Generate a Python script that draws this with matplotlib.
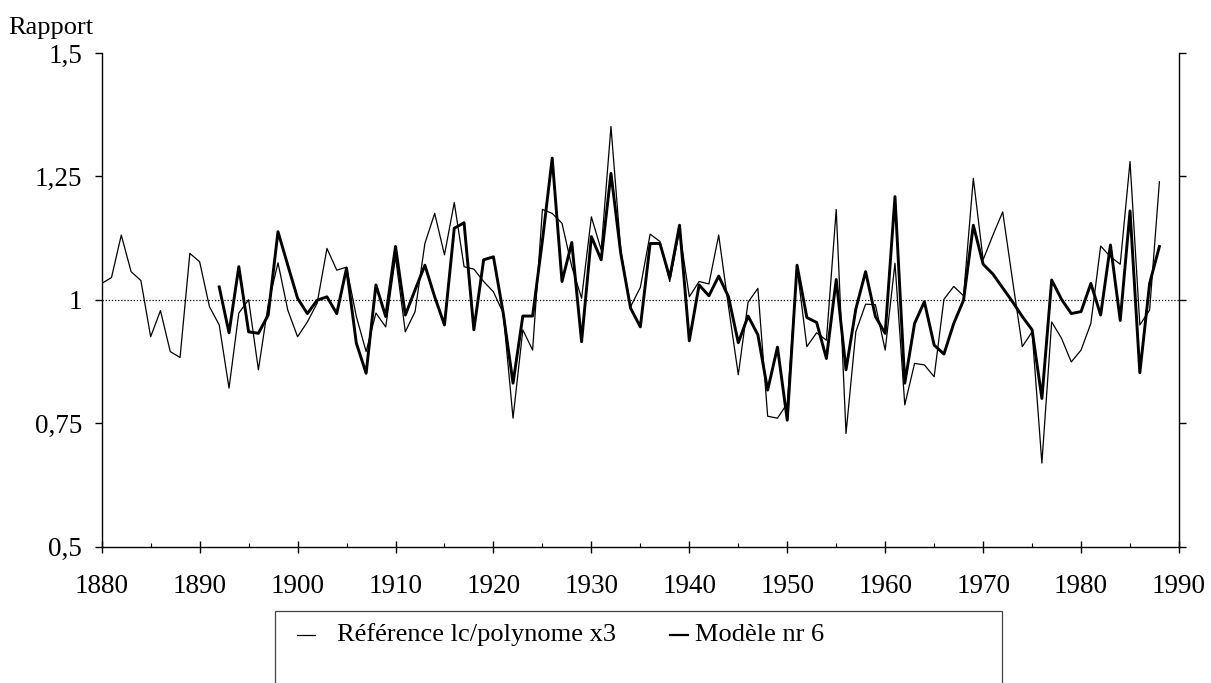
import numpy as np
import matplotlib
matplotlib.use("Agg")
import matplotlib.pyplot as plt
from matplotlib.patches import Rectangle
from matplotlib.ticker import MultipleLocator

plt.rcParams['font.family'] = ['Liberation Serif', 'DejaVu Serif']

# Reference ratio (lc / cubic polynomial), 1880-1988
ref_years = np.arange(1880, 1989)
ref_values = [
    1.033, 1.045, 1.131, 1.057, 1.039, 0.925, 0.978, 0.895, 0.883, 1.094,
    1.077, 0.986, 0.949, 0.821, 0.973, 1.000, 0.858, 0.990, 1.075, 0.979,
    0.925, 0.955, 0.993, 1.104, 1.060, 1.066, 0.966, 0.895, 0.973, 0.945,
    1.087, 0.935, 0.976, 1.114, 1.175, 1.091, 1.197, 1.067, 1.062, 1.037,
    1.016, 0.973, 0.760, 0.939, 0.898, 1.183, 1.175, 1.155, 1.067, 1.003,
    1.168, 1.101, 1.351, 1.100, 0.986, 1.025, 1.133, 1.118, 1.037, 1.140,
    1.006, 1.037, 1.032, 1.131, 0.986, 0.848, 0.995, 1.023, 0.764, 0.760,
    0.790, 1.065, 0.905, 0.933, 0.918, 1.183, 0.729, 0.935, 0.991, 0.990,
    0.898, 1.074, 0.787, 0.871, 0.868, 0.844, 1.001, 1.027, 1.008, 1.246,
    1.081, 1.131, 1.178, 1.040, 0.905, 0.935, 0.669, 0.955, 0.922, 0.874,
    0.898, 0.952, 1.109, 1.087, 1.072, 1.280, 0.949, 0.979, 1.239,
]

# Model no. 6, 1892-1988
model_years = np.arange(1892, 1989)
model_values = [
    1.026, 0.933, 1.067, 0.935, 0.932, 0.969, 1.138, 1.070,
    1.003, 0.972, 0.999, 1.006, 0.972, 1.064, 0.912, 0.851, 1.030, 0.966,
    1.108, 0.969, 1.020, 1.070, 1.006, 0.949, 1.145, 1.156, 0.939, 1.081,
    1.087, 0.973, 0.831, 0.967, 0.967, 1.120, 1.287, 1.037, 1.116, 0.915,
    1.128, 1.081, 1.256, 1.094, 0.983, 0.945, 1.114, 1.114, 1.045, 1.151,
    0.917, 1.030, 1.008, 1.048, 1.006, 0.913, 0.967, 0.929, 0.817, 0.904,
    0.756, 1.070, 0.964, 0.954, 0.881, 1.041, 0.858, 0.981, 1.057, 0.966,
    0.932, 1.209, 0.831, 0.952, 0.996, 0.908, 0.890, 0.952, 0.999, 1.151,
    1.072, 1.052, 1.024, 0.996, 0.966, 0.939, 0.800, 1.040, 1.001, 0.972,
    0.976, 1.033, 0.969, 1.111, 0.958, 1.180, 0.852, 1.033, 1.108,
]

x_ticks = np.arange(1880, 1991, 10)
y_ticks = [0.5, 0.75, 1.0, 1.25, 1.5]
y_tick_labels = ["0,5", "0,75", "1", "1,25", "1,5"]

W, H = 1211, 683
fig = plt.figure(figsize=(W / 100, H / 100), dpi=100)
ax = fig.add_axes([101.7 / W, 1 - 546.5 / H, (1179 - 101.7) / W, (546.5 - 53) / H])

ax.axhline(1.0, color="black", lw=0.9, ls=(0, (1, 1.5)), zorder=1)
ax.plot(ref_years, ref_values, color="black", lw=0.9, zorder=2)
ax.plot(model_years, model_values, color="black", lw=2.1, zorder=3)

ax.set_xlim(1880, 1990)
ax.set_ylim(0.5, 1.5)
ax.set_xticks(x_ticks)
ax.set_xticklabels([str(v) for v in x_ticks])
ax.xaxis.set_minor_locator(MultipleLocator(5))
ax.set_yticks(y_ticks)
ax.set_yticklabels(y_tick_labels)

ax.spines["top"].set_visible(False)
for s in ("left", "right", "bottom"):
    ax.spines[s].set_linewidth(1.0)

ax.tick_params(axis="x", which="major", direction="inout", length=8, width=1.0,
               labelsize=19.5, pad=16)
ax.tick_params(axis="x", which="minor", direction="in", length=3, width=0.8)
ax.tick_params(axis="y", which="major", direction="out", length=5, width=1.0,
               labelsize=19.5, pad=9, right=True, labelright=False)

fig.text(8 / W, 1 - 34 / H, "Rapport", fontsize=19, ha="left", va="baseline")

# Legend frame running off the bottom edge
fig.patches.append(Rectangle((275 / W, -0.05), (1002 - 275) / W, 0.05 + (683 - 611) / H,
                             transform=fig.transFigure, fill=False,
                             edgecolor="#444444", lw=0.9))
ly = 1 - 635 / H
fig.add_artist(plt.Line2D([297 / W, 315 / W], [ly, ly], transform=fig.transFigure,
                          color="black", lw=0.9))
fig.text(337 / W, ly, "Référence lc/polynome x3", fontsize=19, ha="left", va="center")
fig.add_artist(plt.Line2D([670 / W, 688 / W], [ly, ly], transform=fig.transFigure,
                          color="black", lw=1.6))
fig.text(695 / W, ly, "Modèle nr 6", fontsize=19, ha="left", va="center")

fig.savefig("out.png", dpi=100)
